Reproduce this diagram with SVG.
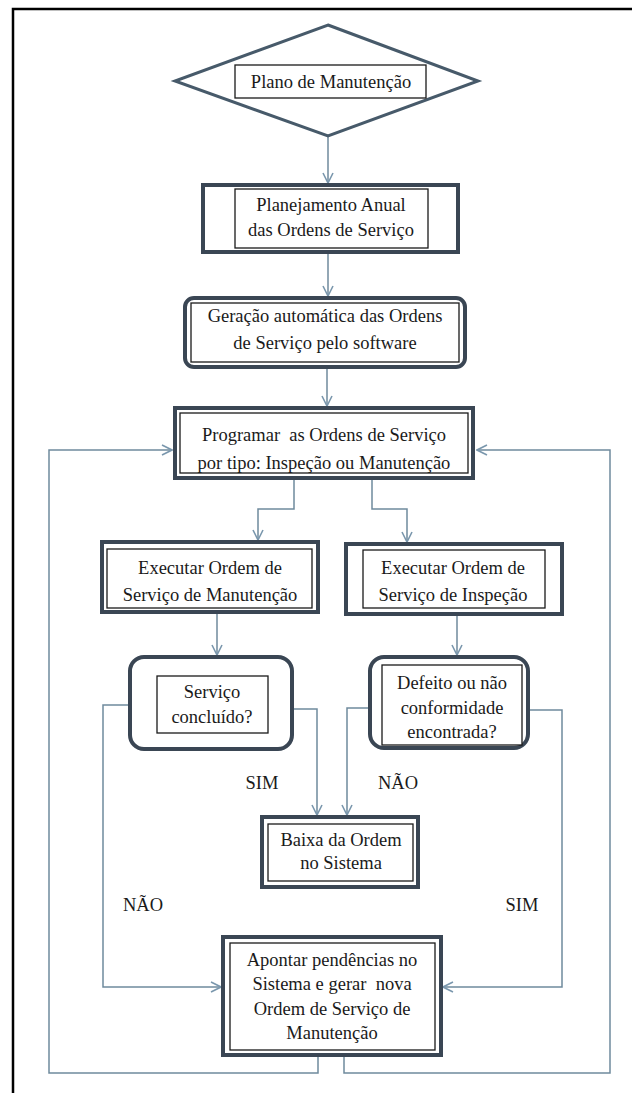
<svg xmlns="http://www.w3.org/2000/svg" width="632" height="1093" viewBox="0 0 632 1093">
<style>
.frame{fill:#fff;stroke:#3a4654;stroke-width:4}
.inner{fill:#fff;stroke:#1a1a1a;stroke-width:1.3}
.dia{fill:#fff;stroke:#475a6a;stroke-width:3}
.con{fill:none;stroke:#6f8a9d;stroke-width:1.5}
text{font-family:"Liberation Serif","Times New Roman",serif;font-size:18.5px;fill:#1a1a1a;text-anchor:middle}
</style>
<defs>
<marker id="arr" viewBox="0 0 12 12" refX="11" refY="6" markerWidth="12" markerHeight="12" markerUnits="userSpaceOnUse" orient="auto">
<path d="M1,1 L11,6 L1,11" fill="none" stroke="#7a97ad" stroke-width="1.6"/>
</marker>
</defs>
<rect width="632" height="1093" fill="#fff"/>
<path d="M13,1093 V9 H632" fill="none" stroke="#000" stroke-width="2.5"/>

<g id="connectors">
<path class="con" d="M328,136 V183" marker-end="url(#arr)"/>
<path class="con" d="M328,252 V296" marker-end="url(#arr)"/>
<path class="con" d="M327,367 V406" marker-end="url(#arr)"/>
<path class="con" d="M294,478 V509 H258 V540" marker-end="url(#arr)"/>
<path class="con" d="M372,478 V509 H407 V542" marker-end="url(#arr)"/>
<path class="con" d="M217,612 V655" marker-end="url(#arr)"/>
<path class="con" d="M457,614 V655" marker-end="url(#arr)"/>
<path class="con" d="M292,709 H317 V815" marker-end="url(#arr)"/>
<path class="con" d="M370,708 H347 V815" marker-end="url(#arr)"/>
<path class="con" d="M130,705 H103 V987 H221" marker-end="url(#arr)"/>
<path class="con" d="M528,710 H562 V987 H443" marker-end="url(#arr)"/>
<path class="con" d="M318,1055 V1073 H49 V450 H172" marker-end="url(#arr)"/>
<path class="con" d="M344,1055 V1073 H610 V450 H477" marker-end="url(#arr)"/>
</g>

<g id="lbl-sim1"><text x="262" y="789">SIM</text></g>
<g id="lbl-nao1"><text x="398" y="789">NÃO</text></g>
<g id="lbl-nao2"><text x="143" y="911">NÃO</text></g>
<g id="lbl-sim2"><text x="522" y="911">SIM</text></g>

<g id="plano">
<polygon class="dia" points="328,25 478,81 328,136 175,81"/>
<rect class="inner" x="235" y="65" width="191" height="33"/>
<text x="331" y="88">Plano de Manutenção</text>
</g>

<g id="planejamento">
<rect class="frame" x="203" y="185" width="255" height="67"/>
<rect class="inner" x="235" y="189" width="193" height="59"/>
<text x="331" y="211">Planejamento Anual</text>
<text x="331" y="236">das Ordens de Serviço</text>
</g>

<g id="geracao">
<rect class="frame" x="185" y="298" width="280" height="69" rx="9"/>
<rect class="inner" x="191" y="303" width="268" height="59"/>
<text x="325" y="322">Geração automática das Ordens</text>
<text x="325" y="349">de Serviço pelo software</text>
</g>

<g id="programar">
<rect class="frame" x="175" y="408" width="298" height="70"/>
<rect class="inner" x="180" y="413" width="288" height="60"/>
<text x="324" y="441" xml:space="preserve">Programar  as Ordens de Serviço</text>
<text x="324" y="469">por tipo: Inspeção ou Manutenção</text>
</g>

<g id="exec-manut">
<rect class="frame" x="102" y="542" width="216" height="70"/>
<rect class="inner" x="107" y="549" width="205" height="59"/>
<text x="210" y="574">Executar Ordem de</text>
<text x="210" y="601">Serviço de Manutenção</text>
</g>

<g id="exec-insp">
<rect class="frame" x="346" y="544" width="216" height="70"/>
<rect class="inner" x="363" y="550" width="182" height="58"/>
<text x="453" y="574">Executar Ordem de</text>
<text x="453" y="601">Serviço de Inspeção</text>
</g>

<g id="servico-concluido">
<rect class="frame" x="130" y="657" width="162" height="92" rx="14"/>
<rect class="inner" x="157" y="676" width="111" height="57"/>
<text x="212" y="698">Serviço</text>
<text x="212" y="723">concluído?</text>
</g>

<g id="defeito">
<rect class="frame" x="370" y="657" width="158" height="91" rx="14"/>
<rect class="inner" x="382" y="665" width="140" height="80"/>
<text x="452" y="689">Defeito ou não</text>
<text x="452" y="714">conformidade</text>
<text x="452" y="738">encontrada?</text>
</g>

<g id="baixa">
<rect class="frame" x="262" y="817" width="156" height="70"/>
<rect class="inner" x="268" y="824" width="145" height="57"/>
<text x="341" y="846">Baixa da Ordem</text>
<text x="341" y="869">no Sistema</text>
</g>

<g id="apontar">
<rect class="frame" x="223" y="937" width="218" height="118"/>
<rect class="inner" x="230" y="943" width="205" height="107"/>
<text x="332" y="966">Apontar pendências no</text>
<text x="332" y="990" xml:space="preserve">Sistema e gerar  nova</text>
<text x="332" y="1015">Ordem de Serviço de</text>
<text x="332" y="1039">Manutenção</text>
</g>
</svg>
